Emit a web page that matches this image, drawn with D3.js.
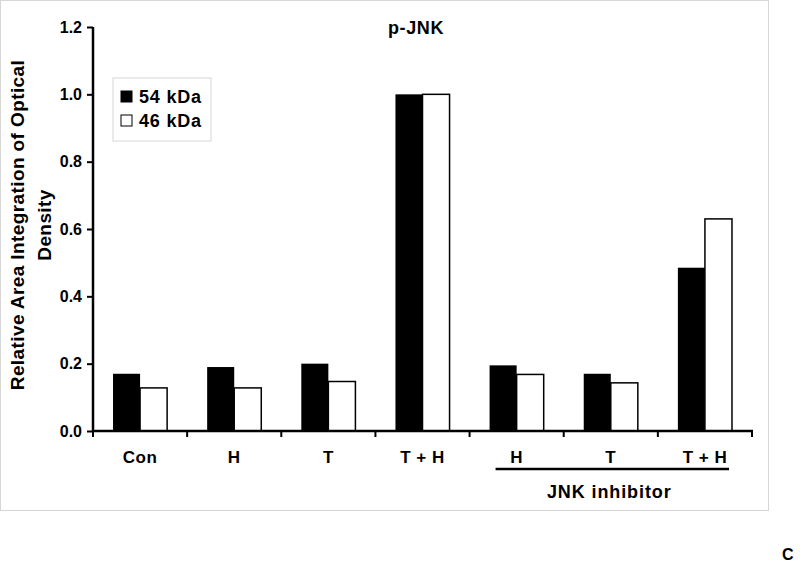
<!DOCTYPE html>
<html>
<head>
<meta charset="utf-8">
<script src="https://cdn.jsdelivr.net/npm/d3@7"></script>
<style>
  body { margin: 0; background: #fff; }
  svg text { font-family: "Liberation Sans", Arial, sans-serif; font-weight: bold; fill: #000; }
</style>
</head>
<body>
<div id="chart"></div>
<script>
// categories and values
var groups = ["Con", "H", "T", "T + H", "H", "T", "T + H"];
var series = ["54 kDa", "46 kDa"];
var kda54 = [0.17, 0.19, 0.20, 1.0, 0.195, 0.17, 0.485];
var kda46 = [0.128, 0.128, 0.147, 1.0, 0.168, 0.143, 0.63];
var yTicks = [0, 0.2, 0.4, 0.6, 0.8, 1.0, 1.2];

var W = 800, H = 565;
var margin = { top: 27, left: 93, right: 48, bottom: 133 };

var svg = d3.select("#chart").append("svg")
    .attr("width", W).attr("height", H);

// light frame round the plot
svg.append("rect")
    .attr("x", 0.5).attr("y", 0.5)
    .attr("width", 768).attr("height", 510)
    .attr("fill", "none").attr("stroke", "#d6d6d6").attr("stroke-width", 1);

var idx = d3.range(groups.length);
var x0 = d3.scaleBand().domain(idx).range([margin.left, W - margin.right]).padding(0);
var x1 = d3.scaleBand().domain(series).range([0, x0.bandwidth()])
    .paddingInner(0).paddingOuter(0.74);
var y = d3.scaleLinear().domain([0, 1.2]).range([H - margin.bottom - 1, margin.top]);

var data = idx.map(function (i) {
    return { i: i, values: [{ s: series[0], v: kda54[i] }, { s: series[1], v: kda46[i] }] };
});

// bars
var g = svg.selectAll(".grp").data(data).enter().append("g")
    .attr("transform", function (d) { return "translate(" + x0(d.i) + ",0)"; });
g.selectAll("rect").data(function (d) { return d.values; }).enter().append("rect")
    .attr("x", function (d) { return x1(d.s); })
    .attr("y", function (d) { return y(d.v); })
    .attr("width", x1.bandwidth())
    .attr("height", function (d) { return y(0) - y(d.v); })
    .attr("fill", function (d) { return d.s === series[0] ? "#000" : "#fff"; })
    .attr("stroke", "#000")
    .attr("stroke-width", function (d) { return d.s === series[0] ? 0 : 1.5; });

// y axis
var yAxis = svg.append("g")
    .attr("transform", "translate(" + margin.left + ",0)")
    .call(d3.axisLeft(y).tickValues(yTicks).tickFormat(d3.format(".1f")).tickSize(6).tickPadding(5));
yAxis.select(".domain").attr("stroke-width", 2.5).attr("d", "M-0," + y(1.2) + "V" + y(0));
yAxis.selectAll(".tick line").attr("stroke-width", 2);
yAxis.selectAll("text").style("font-size", "16px");

// x axis: ticks on category boundaries
var bounds = idx.map(function (i) { return x0(i); }).concat([x0.range()[1]]);
var xg = svg.append("g");
xg.append("line")
    .attr("x1", x0.range()[0] - 1).attr("x2", x0.range()[1] + 1)
    .attr("y1", y(0)).attr("y2", y(0))
    .attr("stroke", "#000").attr("stroke-width", 2.5);
xg.selectAll(".xt").data(bounds).enter().append("line")
    .attr("x1", function (d) { return d; }).attr("x2", function (d) { return d; })
    .attr("y1", y(0)).attr("y2", y(0) + 6)
    .attr("stroke", "#000").attr("stroke-width", 2);
xg.selectAll(".xl").data(idx).enter().append("text")
    .attr("x", function (i) { return x0(i) + x0.bandwidth() / 2; })
    .attr("y", 463)
    .attr("text-anchor", "middle")
    .style("font-size", "17px")
    .style("letter-spacing", "0.5px")
    .text(function (i) { return groups[i]; });

// JNK inhibitor bracket
var lx1 = x0(4) + 26, lx2 = x0(6) + x0.bandwidth() - 23;
svg.append("line")
    .attr("x1", lx1).attr("x2", lx2).attr("y1", 469).attr("y2", 469)
    .attr("stroke", "#000").attr("stroke-width", 2.5);
svg.append("text")
    .attr("x", (lx1 + lx2) / 2 - 3).attr("y", 498)
    .attr("text-anchor", "middle")
    .style("font-size", "18px").style("letter-spacing", "0.9px")
    .text("JNK inhibitor");

// title
svg.append("text")
    .attr("x", 416).attr("y", 34)
    .attr("text-anchor", "middle")
    .style("font-size", "18px").style("letter-spacing", "0.6px")
    .text("p-JNK");

// y axis title, two lines
var yt = svg.append("text")
    .attr("transform", "translate(0,225) rotate(-90)")
    .attr("text-anchor", "middle")
    .style("font-size", "19px").style("letter-spacing", "0.4px");
yt.append("tspan").attr("x", 0).attr("y", 24).text("Relative Area Integration of Optical");
yt.append("tspan").attr("x", 0).attr("y", 51).text("Density");

// legend
var leg = svg.append("g").attr("transform", "translate(113,78)");
leg.append("rect").attr("width", 98).attr("height", 63)
    .attr("fill", "#fff").attr("stroke", "#d6d6d6").attr("stroke-width", 1);
var li = leg.selectAll(".li").data(series).enter().append("g")
    .attr("transform", function (d, i) { return "translate(8," + (13 + i * 24) + ")"; });
li.append("rect").attr("width", 11).attr("height", 11)
    .attr("fill", function (d, i) { return i === 0 ? "#000" : "#fff"; })
    .attr("stroke", "#000").attr("stroke-width", 1);
li.append("text").attr("x", 18).attr("y", 12)
    .style("font-size", "18px").style("letter-spacing", "0.8px")
    .text(function (d) { return d; });

// panel letter at the bottom-right corner
svg.append("text")
    .attr("x", 782).attr("y", 560)
    .style("font-size", "16px")
    .text("C");
</script>
</body>
</html>
